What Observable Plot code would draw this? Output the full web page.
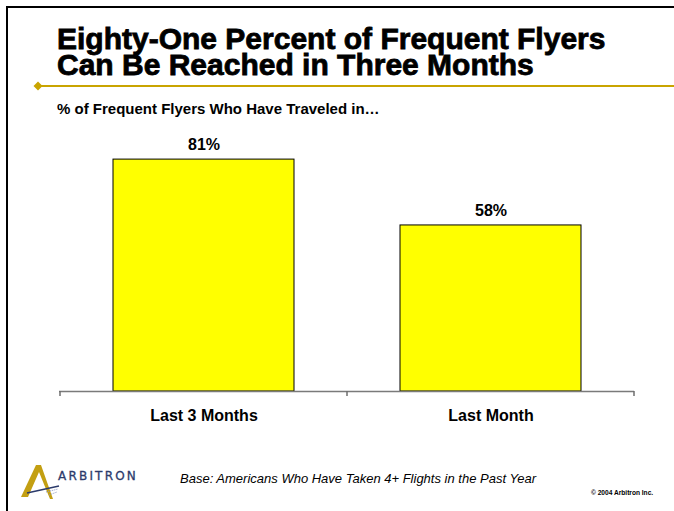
<!DOCTYPE html>
<html>
<head>
<meta charset="utf-8">
<script src="https://cdn.jsdelivr.net/npm/d3@7"></script>
<script src="https://cdn.jsdelivr.net/npm/@observablehq/plot@0.6"></script>
<style>
  html, body { margin: 0; padding: 0; background: #fff; }
  #page { position: relative; width: 674px; height: 511px; overflow: hidden; background: #fff; font-family: "Liberation Sans", Arial, sans-serif; }
  #chart { position: absolute; left: 0; top: 0; }
  .abs { position: absolute; white-space: nowrap; }
  #frame { position: absolute; left: 6px; top: 6px; width: 700px; height: 600px; border-top: 2px solid #000; border-left: 2px solid #000; }
  #title { left: 57px; top: 25.6px; font-size: 30px; font-weight: bold; line-height: 26px; color: #000; -webkit-text-stroke: 0.8px #000; }
  #subtitle { left: 57px; top: 100px; font-size: 15px; font-weight: bold; color: #000; }
  #caption { left: 180px; top: 471px; font-size: 13px; font-style: italic; color: #000; }
  #copy { left: 591px; top: 489px; font-size: 6.6px; font-weight: bold; color: #000; }
  #brand { left: 58px; top: 469px; font-family: "DejaVu Sans", sans-serif; font-size: 12px; letter-spacing: 2.2px; color: #2b3a6b; -webkit-text-stroke: 0.3px #2b3a6b; }
</style>
</head>
<body>
<div id="page">
  <div id="chart"></div>
  <div id="frame"></div>
  <svg class="abs" style="left:0;top:0" width="674" height="511">
    <line x1="38" y1="86" x2="674" y2="86" stroke="#c9a400" stroke-width="2"/>
    <polygon points="38,81.5 42.5,86 38,90.5 33.5,86" fill="#c9a400"/>
    <!-- logo mark -->
    <polygon points="36,465 41,465 53,499 50,499 39,472 28,497 21,497" fill="#c39f12"/>
    <line x1="27" y1="493" x2="59" y2="486" stroke="#2b3a6b" stroke-width="1.5"/>
    <line x1="46" y1="492" x2="58" y2="489" stroke="#8a96c0" stroke-width="1" stroke-dasharray="1,1"/>
    <line x1="49" y1="495" x2="57" y2="492" stroke="#8a96c0" stroke-width="1" stroke-dasharray="1,1"/>
  </svg>
  <div id="title" class="abs">Eighty-One Percent of Frequent Flyers<br>Can Be Reached in Three Months</div>
  <div id="subtitle" class="abs">% of Frequent Flyers Who Have Traveled in…</div>
  <div id="brand" class="abs">ARBITRON</div>
  <div id="caption" class="abs">Base: Americans Who Have Taken 4+ Flights in the Past Year</div>
  <div id="copy" class="abs">© 2004 Arbitron Inc.</div>
</div>
<script>
const categories = ["Last 3 Months", "Last Month"];
const values = [81, 58];
const valueLabels = ["81%", "58%"];

const data = categories.map((c, i) => ({category: c, value: values[i], label: valueLabels[i]}));

const W = 674, H = 511;
const mLeft = 59, mRight = 40, mTop = 104.7, mBottom = 120;

// tick marks at the band boundaries, derived from the x scale
function boundaryTicks(index, scales, values, dims) {
  const x = scales.x;
  const step = x.step ? x.step() : x.bandwidth() / (1 - 0.37);
  const y0 = scales.y(0);
  const g = d3.create("svg:g");
  const pos = [];
  categories.forEach((c, i) => {
    pos.push(x(c) + x.bandwidth() / 2 - step / 2);
    if (i === categories.length - 1) pos.push(x(c) + x.bandwidth() / 2 + step / 2);
  });
  pos.forEach(p => {
    g.append("line")
      .attr("x1", p).attr("x2", p)
      .attr("y1", y0).attr("y2", y0 + 5)
      .attr("stroke", "#6e6e6e").attr("stroke-width", 1.5);
  });
  return g.node();
}

const chart = Plot.plot({
  width: W,
  height: H,
  marginLeft: mLeft,
  marginRight: mRight,
  marginTop: mTop,
  marginBottom: mBottom,
  style: {fontFamily: "Liberation Sans, Arial, sans-serif", background: "transparent", overflow: "visible"},
  x: {domain: categories, paddingInner: 0.37, paddingOuter: 0.185, label: null},
  y: {domain: [0, 100], axis: null},
  marks: [
    Plot.barY(data, {x: "category", y: "value", fill: "#ffff00", stroke: "#000", strokeWidth: 1}),
    Plot.ruleY([0], {stroke: "#7a7a7a", strokeWidth: 1.5}),
    boundaryTicks,
    Plot.text(data, {x: "category", y: "value", text: "label", dy: -15, fontSize: 16, fontWeight: "bold", fill: "#000"}),
    Plot.axisX({tickSize: 0, tickPadding: 18, fontSize: 16, fontWeight: "bold", fill: "#000", label: null})
  ]
});
document.getElementById("chart").appendChild(chart);
</script>
</body>
</html>
